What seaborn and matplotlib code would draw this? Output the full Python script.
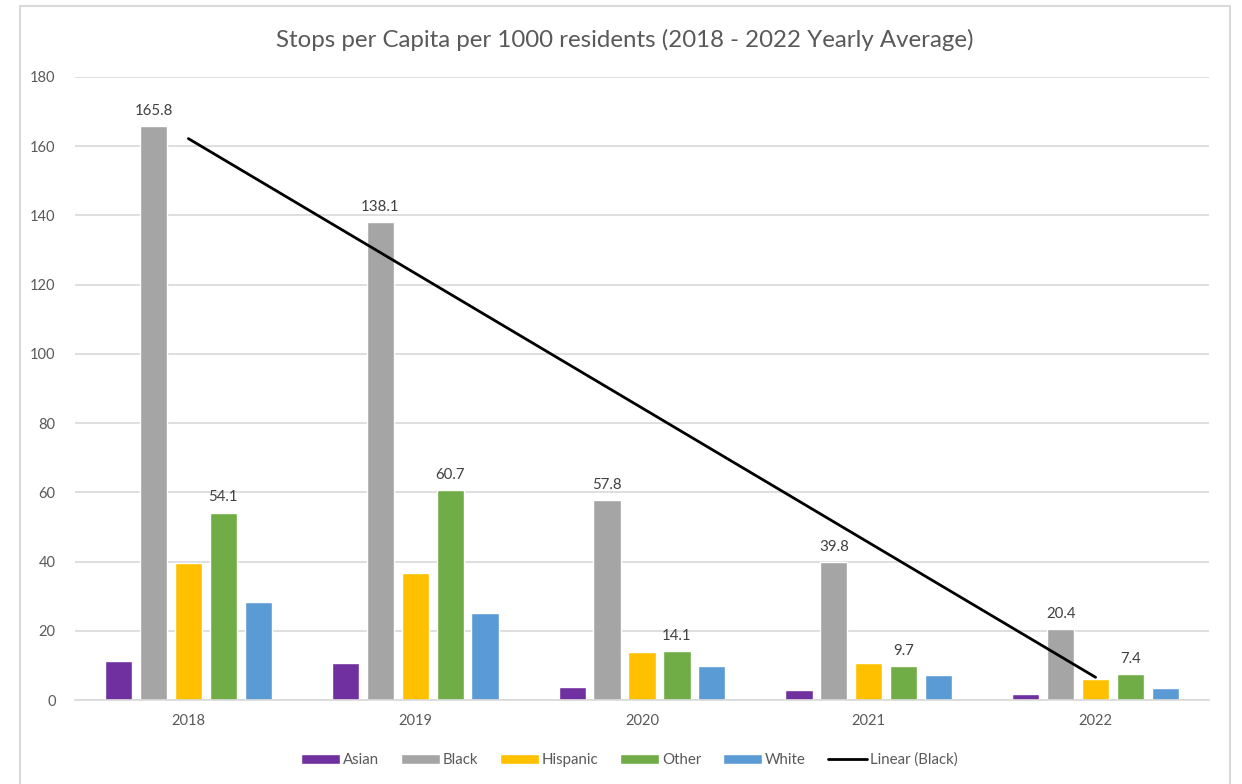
"""Stops per capita per 1000 residents, grouped bars by year and race."""

import matplotlib

matplotlib.use("Agg")
import matplotlib.pyplot as plt
import numpy as np
import pandas as pd
import seaborn as sns
from matplotlib.lines import Line2D
from matplotlib.patches import Patch, Rectangle

years = ["2018", "2019", "2020", "2021", "2022"]
groups = ["Asian", "Black", "Hispanic", "Other", "White"]
asian = [11.3, 10.7, 3.7, 2.9, 1.6]
black = [165.8, 138.1, 57.8, 39.8, 20.4]
hispanic = [39.7, 36.6, 13.9, 10.7, 6.1]
other = [54.1, 60.7, 14.1, 9.7, 7.4]
white = [28.3, 25.0, 9.8, 7.1, 3.5]
labelled = ["Black", "Other"]

colors = ["#7030A0", "#A5A5A5", "#FFC000", "#70AD47", "#5B9BD5"]
text_grey = "#595959"
grid_grey = "#D9D9D9"

df = pd.DataFrame({"Asian": asian, "Black": black, "Hispanic": hispanic,
                   "Other": other, "White": white}, index=years)
long = df.reset_index(names="year").melt(id_vars="year", var_name="group", value_name="value")

sns.set_theme(style="white")
plt.rcParams["font.family"] = ["Lato", "DejaVu Sans"]

fig = plt.figure(figsize=(12.42, 7.84), dpi=100)
fig.patches.append(Rectangle((20 / 1242, -0.01), 1210 / 1242, 1 - 6 / 784 + 0.01,
                             transform=fig.transFigure, fill=False,
                             edgecolor="#D9D9D9", linewidth=1.5))
ax = fig.add_axes([75 / 1242, 1 - 700 / 784, (1209 - 75) / 1242, (700 - 77) / 784])

sns.barplot(data=long, x="year", y="value", hue="group", hue_order=groups,
            palette=colors, width=0.77, gap=0.22, saturation=1, ax=ax, legend=False)

# data labels on the Black and Other series
for grp, cont in zip(groups, ax.containers):
    if grp in labelled:
        ax.bar_label(cont, fmt="%.1f", padding=6, fontsize=10.8, color="#404040")

# linear trend of the Black series
xs = np.arange(len(years))
slope, icpt = np.polyfit(xs, df["Black"].values, 1)
ax.plot(xs, slope * xs + icpt, color="black", linewidth=2)

ax.set_xlim(-0.5, 4.5)
ax.set_ylim(0, 180)
ax.set_yticks(range(0, 181, 20))
ax.yaxis.grid(True, color=grid_grey, linewidth=1.2)
ax.set_axisbelow(True)
for side in ["top", "right", "left"]:
    ax.spines[side].set_visible(False)
ax.spines["bottom"].set_color(grid_grey)
ax.spines["bottom"].set_linewidth(1.2)
ax.tick_params(axis="both", length=0, labelsize=10.5, colors=text_grey, pad=10)
ax.tick_params(axis="y", pad=14)
ax.set_xlabel("")
ax.set_ylabel("")

fig.text(625 / 1242, 1 - 40 / 784, "Stops per Capita per 1000 residents (2018 - 2022 Yearly Average)",
         ha="center", va="center", fontsize=17.3, color=text_grey)

handles = [Patch(facecolor=c, label=g) for g, c in zip(groups, colors)]
handles.append(Line2D([0], [0], color="black", linewidth=2, label="Linear (Black)"))
fig.legend(handles=handles, loc="center", bbox_to_anchor=(629 / 1242, 1 - 760 / 784), ncol=6,
           frameon=False, fontsize=10.8, labelcolor=text_grey, handlelength=2.6, handleheight=0.7,
           handletextpad=0.2, columnspacing=1.45)

fig.savefig("out.png", dpi=100)
